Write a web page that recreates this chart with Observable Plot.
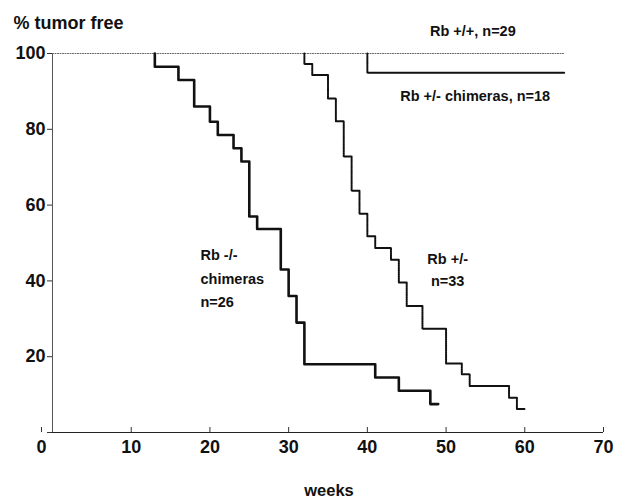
<!DOCTYPE html>
<html><head><meta charset="utf-8">
<script src="https://cdn.jsdelivr.net/npm/d3@7"></script>
<script src="https://cdn.jsdelivr.net/npm/@observablehq/plot@0.6"></script>
<style>body{margin:0;background:#fff}</style>
</head><body><div id="chart"></div>
<script>
// Kaplan–Meier step points (weeks, % tumor free)
const weeksKOChim = [13,13,16,18,20,21,23,24,25,26,29,30,31,32,41,44,48,49];
const freeKOChim  = [100,96.5,93,86,82,78.5,75,71.5,57,53.7,43,36,29,18,14.5,11,7.5,7.5];
const weeksHet = [32,32,33,35,36,37,38,39,40,41,43,44,45,47,50,52,53,58,59,60];
const freeHet  = [100,97.2,94.3,88.1,82.1,72.8,63.8,57.7,51.8,48.7,45.6,39.6,33.4,27.4,18.2,15.4,12.3,9.2,6.2,6.2];
const weeksHetChim = [40,40,65];
const freeHetChim  = [100,94.9,94.9];
const weeksWT = [0,65];
const freeWT  = [100,100];
const xTicks = [0,10,20,30,40,50,60,70];
const yTicks = [0,20,40,60,80,100];

const rows = (name, ws, fs) => ws.map((w, i) => ({series: name, week: w, free: fs[i]}));
const koChim = rows("Rb -/- chimeras", weeksKOChim, freeKOChim);
const het = rows("Rb +/-", weeksHet, freeHet);
const hetChim = rows("Rb +/- chimeras", weeksHetChim, freeHetChim);
const wt = rows("Rb +/+", weeksWT, freeWT);

const font = {fontWeight: "bold", fill: "#111"};

const chart = Plot.plot({
  width: 617,
  height: 501,
  marginLeft: 52,
  marginRight: 14,
  marginTop: 53,
  marginBottom: 69,
  style: {fontFamily: "'Liberation Sans', Arial, Helvetica, sans-serif", background: "#fff", color: "#111"},
  x: {domain: [0, 70]},
  y: {domain: [0, 100]},
  marks: [
    Plot.ruleX([0], {stroke: "#555", strokeWidth: 1}),
    Plot.ruleY([0], {stroke: "#222", strokeWidth: 1.2}),
    Plot.axisY({ticks: yTicks, tickSize: 5, tickPadding: 2, tickFormat: d => d === 0 ? "" : d, fontSize: 18, ...font, stroke: "#333", label: null}),
    Plot.axisX({ticks: xTicks.filter(d => d !== 0), tickSize: -5, tickPadding: 13, fontSize: 18, ...font, stroke: "#333", label: null}),
    Plot.axisX({ticks: [0], tickSize: -5, tickPadding: 13, dx: -11, fontSize: 18, ...font, stroke: "#333", label: null}),
    Plot.line(wt, {x: "week", y: "free", curve: "step-after", stroke: "#666", strokeWidth: 1.1, strokeDasharray: "1 1.5"}),
    Plot.line(hetChim, {x: "week", y: "free", curve: "step-after", stroke: "#111", strokeWidth: 2, strokeDasharray: "1.4 0.8"}),
    Plot.line(het, {x: "week", y: "free", curve: "step-after", stroke: "#111", strokeWidth: 2, strokeDasharray: "1.4 0.8"}),
    Plot.line(koChim, {x: "week", y: "free", curve: "step-after", stroke: "#111", strokeWidth: 2.6}),
    Plot.text(["Rb +/+, n=29"], {x: 53.4, y: 105.8, fontSize: 14.5, ...font, textAnchor: "middle"}),
    Plot.text(["Rb +/- chimeras, n=18"], {x: 53.7, y: 88.8, fontSize: 14.5, ...font, textAnchor: "middle"}),
    Plot.text(["Rb -/-\nchimeras\nn=26"], {x: 18.8, y: 41.3, fontSize: 14.5, ...font, textAnchor: "start", lineHeight: 1.62}),
    Plot.text(["Rb +/-\nn=33"], {x: 50.2, y: 43.5, fontSize: 14.5, ...font, textAnchor: "middle", lineHeight: 1.58}),
    Plot.text(["% tumor free"], {frameAnchor: "top-left", dx: -39, dy: -37, fontSize: 18, ...font, textAnchor: "start"}),
    Plot.text(["weeks"], {frameAnchor: "bottom", dx: 1, dy: 63, fontSize: 16.5, ...font})
  ]
});
document.getElementById("chart").appendChild(chart);
</script>
</body></html>
